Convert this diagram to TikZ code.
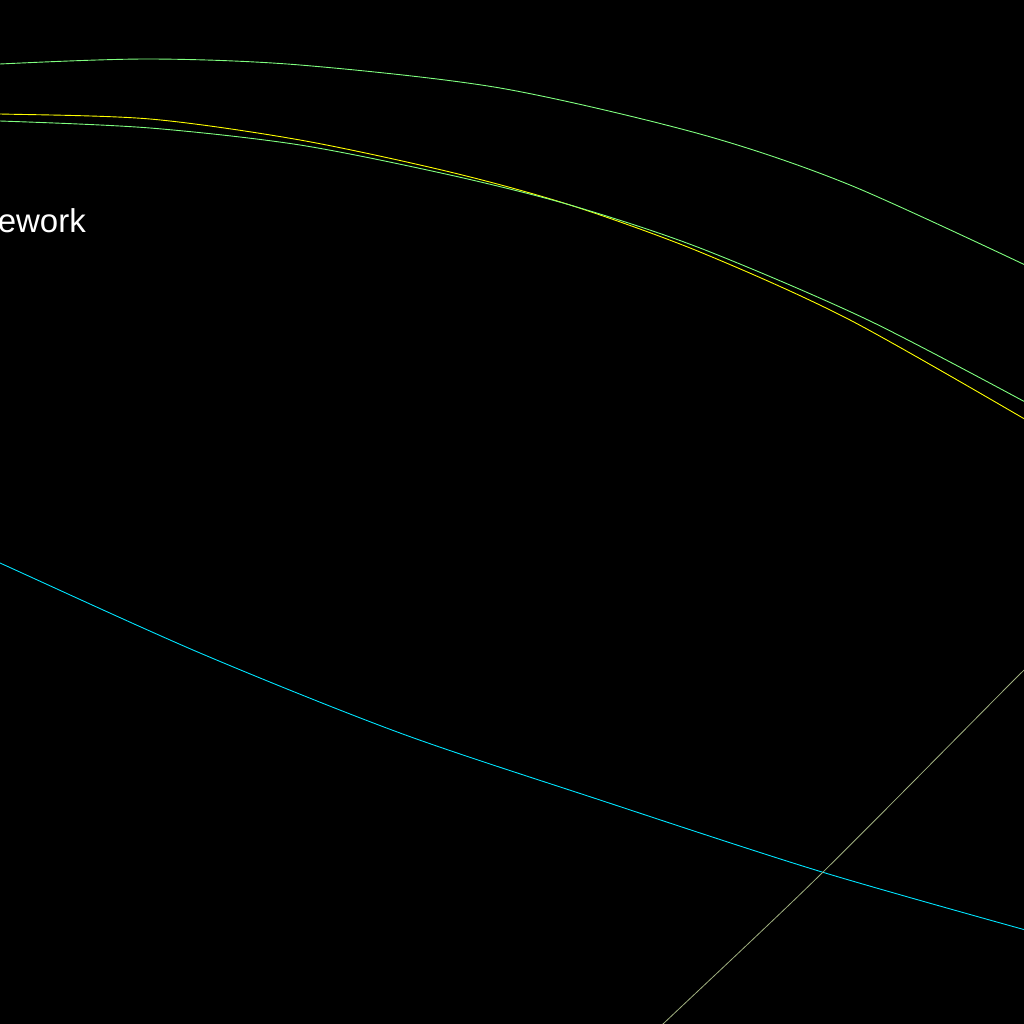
\documentclass[tikz,border=0pt]{standalone}
\usepackage{fontspec}
\setmainfont{Liberation Sans}
\definecolor{lgreen}{HTML}{80FF80}
\definecolor{lyellow}{HTML}{FFFF00}
\definecolor{lcyan}{HTML}{00E5FF}
\definecolor{lolive}{HTML}{A0B080}
\begin{document}
\begin{tikzpicture}[x=1pt,y=-1pt,
  track/.style={line width=0.9pt},
  label/.style={text=white,font=\fontsize{33}{38}\selectfont,inner sep=0pt}]
\fill[black] (0,0) rectangle (1024,1024);
\useasboundingbox (0,0) rectangle (1024,1024);
\clip (0,0) rectangle (1024,1024);
% upper green
\draw[track,lgreen] plot[smooth] coordinates {(-40,68) (0,64) (150,59) (300,65) (500,88) (700,134) (850,185) (1040,272)};
% yellow
\draw[track,lyellow] plot[smooth] coordinates {(-40,114) (0,114) (150,119) (300,140) (450,172) (570,205) (700,252) (850,320) (1040,428)};
% lower green
\draw[track,lgreen] plot[smooth] coordinates {(-40,121) (0,121) (150,128) (300,145) (450,175) (570,205) (700,248) (868,320) (1040,410)};
% cyan
\draw[track,lcyan] plot[smooth] coordinates {(-40,545) (0,563) (200,653) (400,733) (600,800) (822,872) (1040,934)};
% olive
\draw[line width=0.8pt,lolive] plot[smooth] coordinates {(645,1042) (663,1024) (820,875) (1012,682) (1035,660)};
\node[label,anchor=base east] (lbl) at (86,233) {ework};
\end{tikzpicture}
\end{document}
